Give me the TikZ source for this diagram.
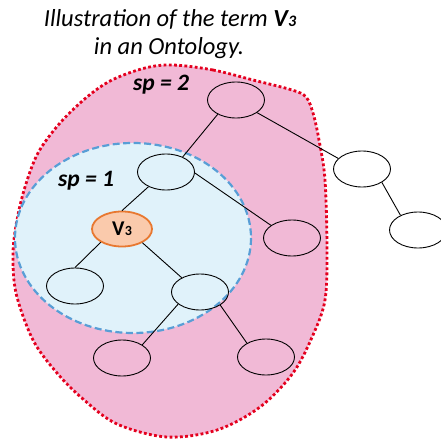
\documentclass[tikz,border=0pt]{standalone}
\usepackage{fontspec}
\setmainfont{Carlito}
\usetikzlibrary{shapes.geometric}
\definecolor{pinkfill}{RGB}{241,185,214}
\definecolor{reddot}{RGB}{228,0,30}
\definecolor{bluedash}{RGB}{88,158,214}
\definecolor{bluefill}{RGB}{224,242,250}
\definecolor{peach}{RGB}{250,202,172}
\definecolor{orangeline}{RGB}{232,120,48}
\tikzset{
  term/.style={ellipse, draw=black, line width=0.9pt, minimum width=57pt, minimum height=36pt, inner sep=0pt},
  vterm/.style={term, fill=peach, draw=orangeline, line width=1.8pt, minimum width=60pt, minimum height=35pt},
  link/.style={draw=black, line width=0.9pt},
  titletext/.style={anchor=base, font=\fontsize{24.5}{28}\selectfont\itshape, inner sep=0pt},
  splabel/.style={anchor=base, font=\fontsize{23.5}{26}\selectfont\bfseries\itshape, inner sep=0pt}
}
\begin{document}
\begin{tikzpicture}[x=1pt,y=-1pt]
\useasboundingbox (0,0) rectangle (440,441);
% sp = 2 region
\path[fill=pinkfill, draw=reddot, line width=2.8pt, dash pattern=on 2.8pt off 2.4pt]
  plot[smooth cycle, tension=0.55] coordinates {
  (173,65) (213,70) (253,80) (292,90) (306,97) (313,113) (319,140) (325,180) (327,250)
  (325,300) (313,335) (293,373) (260,407) (217,430) (167,437) (117,424) (83,399)
  (57,373) (33,340) (16,293) (13,253) (17,220) (25,187) (38,153) (60,123) (87,97)
  (112,80) (145,68)};
% sp = 1 region
\path[fill=bluefill, draw=bluedash, line width=2.2pt, dash pattern=on 7pt off 3.5pt]
  (133,238) ellipse [x radius=118, y radius=95];
% titles
\node[titletext] (t1) at (170,27) {Illustration of the term \textbf{V\kern0.3pt{\fontsize{16}{18}\selectfont 3}}};
\node[titletext] (t2) at (169,55) {in an Ontology.};
\node[splabel] (sp2) at (161,91) {sp = 2};
\node[splabel] (sp1) at (86,186) {sp = 1};
% terms
\node[term] (top) at (236,100) {};
\node[term] (a) at (166,172) {};
\node[term] (r1) at (362,169) {};
\node[term] (r2) at (418,230) {};
\node[vterm] (v3) at (122,229) {\fontsize{21}{23}\selectfont\bfseries V\kern0.3pt{\fontsize{14}{16}\selectfont 3}};
\node[term] (b) at (292,238) {};
\node[term] (c) at (75,286) {};
\node[term] (d) at (200,292) {};
\node[term] (e) at (122,358) {};
\node[term] (f) at (266,357) {};
% links
\draw[link] (top.218) -- (a.42);
\draw[link] (top.329) -- (r1.156);
\draw[link] (r1.326) -- (r2.140);
\draw[link] (a.220) -- (v3.90);
\draw[link] (a.358) -- (b.149);
\draw[link] (v3.212) -- (c.90);
\draw[link] (v3.326) -- (d.142);
\draw[link] (d.209) -- (e.33);
\draw[link] (d.327) -- (f.144);
\end{tikzpicture}
\end{document}
